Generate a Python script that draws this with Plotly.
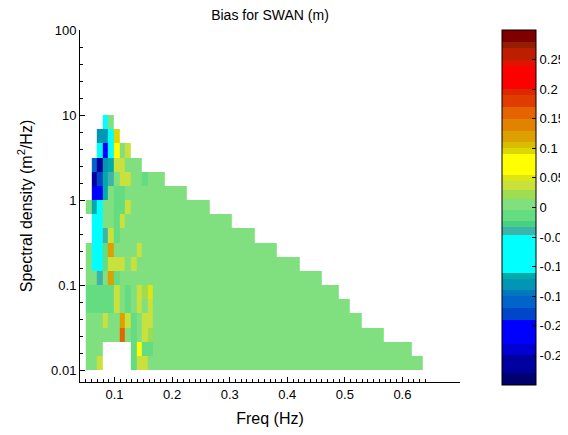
import numpy as np
import plotly.graph_objects as go

# frequency bins (Hz) and spectral density bins (m^2/Hz)
freq_edges = [0.05 + k / 102.4 for k in range(61)]
dens_edges = [10 ** (-2 + k / 6) for k in range(19)]

# extent of the filled cells in each density row (row 0 = lowest)
row_first = [0, 0, 0, 0, 0, 0, 0, 0, 0, 1, 1, 0, 1, 1, 1, 2, 2, 3]
row_last = [59, 57, 52, 48, 46, 44, 41, 37, 33, 29, 25, 21, 17, 13, 9, 7, 5, 4]
empty_cells = [(0, c) for c in range(3, 8)] + [(1, c) for c in range(3, 8)]

base_bias = 0.005
cell_bias = {
    17: [(3, -0.08)],
    16: [(2, -0.13), (3, -0.13), (4, -0.08), (5, 0.095)],
    15: [(2, -0.08), (3, -0.22), (4, -0.08), (5, 0.07), (7, 0.035)],
    14: [(1, -0.16), (2, -0.28), (3, -0.13), (4, -0.12), (5, 0.035), (6, 0.035)],
    13: [(1, -0.28), (2, -0.19), (3, -0.12), (4, -0.045), (6, 0.035), (7, 0.035), (10, -0.02)],
    12: [(1, -0.22), (2, -0.2), (3, -0.12), (5, -0.02), (6, -0.02)],
    11: [(1, -0.12), (2, -0.08), (5, -0.02), (6, -0.02), (7, 0.035)],
    10: [(1, -0.08), (2, -0.08), (5, -0.015), (6, 0.035)],
    9: [(1, -0.08), (2, -0.08), (3, -0.045), (4, 0.04), (5, -0.015)],
    8: [(1, -0.08), (2, -0.08), (3, -0.02), (4, 0.115), (9, 0.035)],
    7: [(1, -0.08), (2, -0.08), (3, -0.02), (4, 0.035), (5, 0.035), (6, 0.035), (8, 0.035)],
    6: [(2, -0.045), (4, 0.115), (5, -0.01)],
    5: [(0, -0.01), (1, -0.01), (2, -0.01), (3, -0.01), (4, -0.01), (5, 0.035),
        (7, -0.02), (9, 0.035), (10, 0.02), (11, 0.045)],
    4: [(0, -0.01), (1, -0.01), (2, -0.01), (3, -0.01), (4, -0.01), (5, 0.035),
        (7, -0.02), (9, 0.035), (11, 0.04)],
    3: [(3, 0.035), (6, 0.12), (7, 0.035), (8, -0.02), (10, 0.035), (11, 0.035)],
    2: [(6, 0.16), (8, -0.02), (10, 0.035), (11, 0.02)],
    1: [(8, -0.02), (9, 0.075), (10, -0.01), (11, -0.02)],
    0: [(2, 0.035), (8, -0.02), (9, 0.04), (10, 0.04)],
}

# stepped colour map: band edges (m) and colours
band_edges = [-0.3, -0.28, -0.25, -0.23, -0.19, -0.17, -0.15, -0.14, -0.12, -0.11,
              -0.047, -0.033, -0.022, -0.005, 0.015, 0.03, 0.045, 0.055, 0.09, 0.1,
              0.11, 0.13, 0.15, 0.17, 0.19, 0.2, 0.24, 0.25, 0.27, 0.28, 0.3]
band_colors = ["#00006e", "#0000a0", "#0000d2", "#0000ff", "#0046c8", "#0064c8",
               "#0078be", "#0096b4", "#00aaaa", "#00ffff", "#3cb4aa", "#46d282",
               "#64dc82", "#80e080", "#a0dc50", "#c8e13c", "#dce614", "#ffff00",
               "#dcd700", "#d7be00", "#dca000", "#e18200", "#e66400", "#e13c00",
               "#dc2800", "#ff0000", "#dc1400", "#be1e00", "#961e00", "#800000"]

nrow, ncol = len(dens_edges) - 1, len(freq_edges) - 1
grid = np.full((nrow, ncol), np.nan)
for r in range(nrow):
    grid[r, row_first[r]:row_last[r] + 1] = base_bias
    for c, v in cell_bias.get(r, []):
        grid[r, c] = v
for r, c in empty_cells:
    grid[r, c] = np.nan

lo, hi = band_edges[0], band_edges[-1]
colorscale = []
for i, col in enumerate(band_colors):
    colorscale.append([(band_edges[i] - lo) / (hi - lo), col])
    colorscale.append([(band_edges[i + 1] - lo) / (hi - lo), col])

font = "Liberation Sans, Arial, sans-serif"
# the page body adds an 8px margin, so the figure is 8px smaller than the window
W, H = 560, 427
L, R, T, B = 72, 452, 22, 374

fig = go.Figure(go.Heatmap(
    x=freq_edges, y=dens_edges, z=grid,
    zmin=lo, zmax=hi, colorscale=colorscale,
    hoverongaps=False,
    colorbar=dict(
        x=(494 - L) / (R - L), xanchor="left", y=1, yanchor="top",
        thickness=34, thicknessmode="pixels",
        len=355, lenmode="pixels",
        outlinecolor="black", outlinewidth=1,
        ticks="inside", ticklen=4, tickcolor="black",
        tickvals=[-0.25, -0.2, -0.15, -0.1, -0.05, 0, 0.05, 0.1, 0.15, 0.2, 0.25],
        ticktext=["-0.25", "-0.2", "-0.15", "-0.1", "-0.05", "0", "0.05", "0.1",
                  "0.15", "0.2", "0.25"],
        tickfont=dict(size=13, color="black"),
        xpad=0, ypad=0,
    ),
))

fig.update_layout(
    width=W, height=H,
    margin=dict(l=L, r=W - R, t=T, b=H - B, autoexpand=False),
    paper_bgcolor="white", plot_bgcolor="white",
    font=dict(family=font, size=13, color="black"),
    title=dict(text="Bias for SWAN (m)", x=262 / W, xanchor="center",
               y=1 - 2 / H, yanchor="top", pad=dict(t=0), font=dict(size=14)),
)
fig.update_xaxes(
    range=[0.04, 0.7], showline=True, linecolor="black", linewidth=1,
    showgrid=False, zeroline=False, mirror=False,
    tickvals=[0.1, 0.2, 0.3, 0.4, 0.5, 0.6],
    ticktext=["0.1", "0.2", "0.3", "0.4", "0.5", "0.6"],
    ticks="inside", ticklen=5, tickcolor="black",
    minor=dict(tickvals=[round(0.04 + 0.01 * k, 2) for k in range(61)],
               ticks="inside", ticklen=3, tickcolor="black"),
    title=dict(text="Freq (Hz)", standoff=12),
)
fig.update_yaxes(
    type="log", range=[-2.141, 2.0], showline=True, linecolor="black", linewidth=1,
    showgrid=False, zeroline=False, mirror=False,
    tickvals=[0.01, 0.1, 1, 10, 100],
    ticktext=["0.01", "0.1", "1", "10", "100"],
    ticks="inside", ticklen=5, tickcolor="black",
    minor=dict(tickvals=[10 ** (-2 + 0.2 * k) for k in range(21)],
               ticks="inside", ticklen=3, tickcolor="black"),
    title=dict(text="Spectral density (m<sup>2</sup>/Hz)", standoff=14),
)

fig.write_html("out.html")
